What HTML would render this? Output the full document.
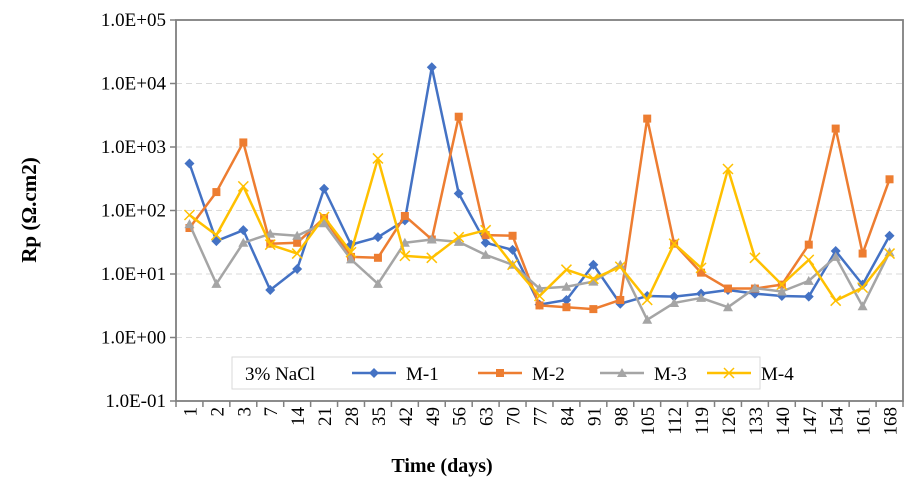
<!DOCTYPE html>
<html><head><meta charset="utf-8"><style>
body{margin:0;background:#fff;}
svg{display:block;font-family:"Liberation Serif",serif;}
</style></head><body>
<svg id="chart" width="923" height="484"></svg>
<script>
const categories=["1","2","3","7","14","21","28","35","42","49","56","63","70","77","84","91","98","105","112","119","126","133","140","147","154","161","168"];
const m1=[550,33,49,5.6,12,220,29,38,70,18000,185,31,24,3.3,3.9,14,3.4,4.5,4.4,4.9,5.6,4.9,4.5,4.4,23,6.8,40];
const m2=[53,195,1180,30,31,76,18.6,18,82,35,3000,41,40,3.2,3.0,2.8,3.9,2800,30,10.5,5.9,5.9,6.8,29,1950,21,310];
const m3=[61,7,31,43,40,63,17,7,31,35,32,20,14,5.9,6.3,7.6,14,1.9,3.5,4.2,3.0,6.0,5.3,7.8,18.6,3.1,22];
const m4=[85,41,240,29,21,79,22,660,19.3,18,38,49,14,4.5,11.7,8.4,13,3.9,30,12.5,450,18,6.8,16.7,3.8,6.1,21];
const yTicks=["1.0E-01","1.0E+00","1.0E+01","1.0E+02","1.0E+03","1.0E+04","1.0E+05"];
const NS="http://www.w3.org/2000/svg";
const svg=document.getElementById('chart');
const L=176,R=903,T=20,B=401;
const band=(R-L)/categories.length;
const x=i=>L+band*(i+0.5);
const y=v=>B-(Math.log10(v)+1)*(B-T)/6;
function el(t,a,p){const e=document.createElementNS(NS,t);for(const k in a)e.setAttribute(k,a[k]);(p||svg).appendChild(e);return e;}
yTicks.forEach((t,i)=>{const yy=B-i*(B-T)/6;
 const g=el('line',{x1:L,x2:R,y1:yy,y2:yy,stroke:'#d9d9d9','stroke-width':1,'stroke-dasharray':'6,4'});
 
 
 el('line',{x1:L-6,x2:L,y1:yy,y2:yy,stroke:'#808080','stroke-width':1.5});
 const tx=el('text',{x:166,y:yy+6,'text-anchor':'end','font-size':19});tx.textContent=t;
 
 
});
const frame=el('rect',{x:L,y:T,width:R-L,height:B-T,fill:'none',stroke:'#808080','stroke-width':1.8});


categories.forEach((c,i)=>{
 el('line',{x1:L+band*i,x2:L+band*i,y1:B,y2:B+6,stroke:'#808080','stroke-width':1.5});
 const tx=el('text',{transform:`translate(${x(i)+7},${B+6}) rotate(-90)`,'text-anchor':'end','font-size':19});tx.textContent=c;
 
 
});
el('line',{x1:R,x2:R,y1:B,y2:B+6,stroke:'#808080','stroke-width':1.5});
const series=[[m1,'#4472c4','diamond','M-1'],[m2,'#ed7d31','square','M-2'],[m3,'#a5a5a5','triangle','M-3'],[m4,'#ffc000','x','M-4']];
function marker(type,cx,cy,col,g){
 if(type==='diamond')el('polygon',{points:`${cx},${cy-5} ${cx+5},${cy} ${cx},${cy+5} ${cx-5},${cy}`,fill:col},g);
 else if(type==='square')el('rect',{x:cx-4,y:cy-4,width:8,height:8,fill:col},g);
 else if(type==='triangle')el('polygon',{points:`${cx},${cy-5} ${cx+5},${cy+4} ${cx-5},${cy+4}`,fill:col},g);
 else{el('line',{x1:cx-5,y1:cy-5,x2:cx+5,y2:cy+5,stroke:col,'stroke-width':1.5},g);el('line',{x1:cx-5,y1:cy+5,x2:cx+5,y2:cy-5,stroke:col,'stroke-width':1.5},g);}
}
series.forEach(([d,col,mk,name])=>{
 const g=el('g',{});
 
 
 el('polyline',{points:d.map((v,i)=>x(i)+','+y(v)).join(' '),fill:'none',stroke:col,'stroke-width':2.5,'stroke-linejoin':'round'},g);
 d.forEach((v,i)=>marker(mk,x(i),y(v),col,g));
});
const lg=el('g',{});


el('rect',{x:232,y:357,width:528,height:32,fill:'#fff',stroke:'#d9d9d9'},lg);
const lt=el('text',{x:245,y:380,'font-size':19},lg);lt.textContent='3% NaCl';
const lx=[352,478,600,707];
series.forEach(([d,col,mk,name],i)=>{
 const e=el('g',{},lg);
 
 
 el('line',{x1:lx[i],x2:lx[i]+44,y1:373,y2:373,stroke:col,'stroke-width':2.5},e);
 marker(mk,lx[i]+22,373,col,e);
 const t=el('text',{x:lx[i]+54,y:380,'font-size':19},e);t.textContent=name;
});
const yt=el('text',{transform:'translate(36,210) rotate(-90)','text-anchor':'middle','font-size':21,'font-weight':'bold'});yt.textContent='Rp  (Ω.cm2)';


const xt=el('text',{x:442,y:472,'text-anchor':'middle','font-size':20,'font-weight':'bold'});xt.textContent='Time (days)';


</script>
</body></html>
